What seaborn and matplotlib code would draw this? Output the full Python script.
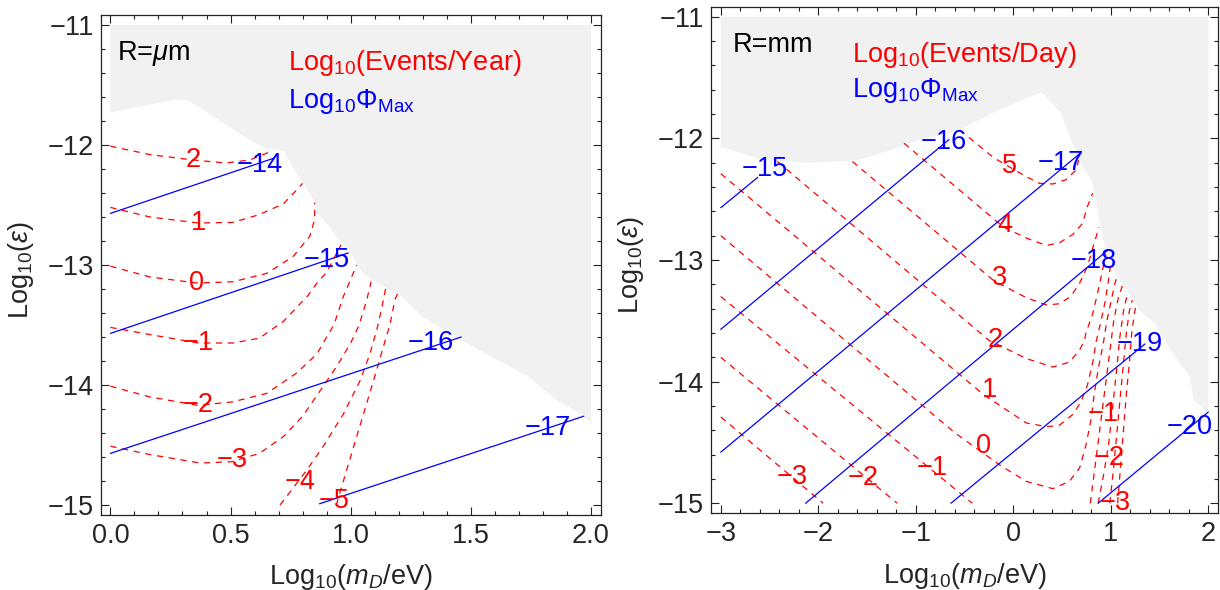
import matplotlib
matplotlib.use("Agg")
import matplotlib.pyplot as plt
import numpy as np
import pandas as pd
import seaborn as sns
from matplotlib.ticker import MultipleLocator, FuncFormatter

# ---------------- data: left panel (R = micrometre) ----------------
gray_um = [(0, -11), (0, -11.73), (0.26, -11.625), (0.32, -11.625), (0.45, -11.79),
           (0.58, -11.96), (0.65, -12.03), (0.72, -12.05), (0.80, -12.32), (0.85, -12.47),
           (0.86, -12.56), (0.89, -12.63), (0.94, -12.76), (1.0, -12.9), (1.05, -13.07),
           (1.14, -13.18), (1.21, -13.26), (1.24, -13.32), (1.30, -13.43), (1.41, -13.57),
           (1.59, -13.77), (1.74, -13.93), (1.86, -14.13), (1.95, -14.23), (2.0, -14.31),
           (2.0, -11)]

ev_um_2 = [(0, -12.01), (0.165, -12.08), (0.345, -12.125), (0.48, -12.15), (0.58, -12.125), (0.66, -12.06)]
ev_um_1 = [(0, -12.52), (0.165, -12.6), (0.365, -12.65), (0.51, -12.645), (0.62, -12.58),
           (0.72, -12.49), (0.775, -12.375), (0.80, -12.32)]
ev_um_0 = [(0, -13.01), (0.165, -13.10), (0.36, -13.15), (0.51, -13.14), (0.65, -13.07),
           (0.76, -12.93), (0.83, -12.76), (0.85, -12.62), (0.85, -12.48)]
ev_um_m1 = [(0, -13.52), (0.165, -13.58), (0.366, -13.65), (0.51, -13.65), (0.62, -13.61),
            (0.72, -13.47), (0.82, -13.26), (0.86, -13.15), (0.90, -13.06), (0.96, -12.83)]
ev_um_m2 = [(0, -14.01), (0.165, -14.10), (0.366, -14.17), (0.51, -14.14), (0.65, -14.07),
            (0.775, -13.90), (0.86, -13.74), (0.90, -13.60), (0.93, -13.50), (0.97, -13.26),
            (1.025, -13.0)]
ev_um_m3 = [(0, -14.51), (0.165, -14.58), (0.373, -14.65), (0.505, -14.64), (0.62, -14.57),
            (0.72, -14.43), (0.80, -14.26), (0.886, -14.01), (0.94, -13.85), (1.0, -13.65),
            (1.035, -13.5), (1.067, -13.29), (1.085, -13.14)]
ev_um_m4 = [(0.706, -15.0), (0.817, -14.71), (0.886, -14.51), (0.97, -14.24), (1.04, -13.96),
            (1.08, -13.74), (1.11, -13.53), (1.13, -13.35), (1.145, -13.2)]
ev_um_m5 = [(0.94, -15.0), (0.983, -14.71), (1.025, -14.43), (1.067, -14.15), (1.108, -13.875),
            (1.136, -13.68), (1.163, -13.5), (1.184, -13.29), (1.195, -13.24)]

phi_um_m14 = [(0, -12.57), (0.68, -12.11)]
phi_um_m15 = [(0, -13.57), (0.99, -12.90)]
phi_um_m16 = [(0, -14.57), (1.46, -13.60)]
phi_um_m17 = [(0.87, -14.99), (1.97, -14.26)]

ev_um_labels = [("2", 0.345, -12.125), ("1", 0.365, -12.65), ("0", 0.36, -13.15),
                ("\u22121", 0.366, -13.65), ("\u22122", 0.366, -14.17), ("\u22123", 0.505, -14.625),
                ("\u22124", 0.79, -14.81), ("\u22125", 0.93, -14.97)]
phi_um_labels = [("\u221214", 0.623, -12.17), ("\u221215", 0.90, -12.96),
                 ("\u221216", 1.333, -13.65), ("\u221217", 1.82, -14.36)]

# ---------------- data: right panel (R = millimetre) ----------------
gray_mm = [(-3, -11), (-3, -12.07), (-2.55, -12.18), (-2.07, -12.2), (-1.6, -12.18),
           (-1.27, -12.1), (-0.95, -12.01), (-0.55, -11.93), (-0.16, -11.77), (0.29, -11.62),
           (0.49, -11.79), (0.593, -12.01), (0.68, -12.18), (0.78, -12.32), (0.815, -12.37),
           (0.865, -12.59), (0.916, -12.81), (0.97, -12.97), (1.05, -13.11), (1.154, -13.25),
           (1.256, -13.36), (1.29, -13.41), (1.45, -13.52), (1.61, -13.74), (1.81, -13.96),
           (1.85, -14.15), (1.97, -14.24), (2.0, -14.24), (2.0, -11)]

ev_mm_5 = [(-0.55, -11.93), (-0.2, -12.16), (0.134, -12.315), (0.27, -12.37), (0.405, -12.375),
           (0.54, -12.34), (0.644, -12.26), (0.67, -12.18)]
ev_mm_4 = [(-1.12, -12.04), (-0.1, -12.73), (0.134, -12.82), (0.34, -12.88), (0.47, -12.86),
           (0.61, -12.79), (0.71, -12.70), (0.76, -12.56), (0.815, -12.45)]
ev_mm_3 = [(-1.65, -12.19), (-0.2, -13.17), (0.134, -13.31), (0.34, -13.37), (0.47, -13.36),
           (0.59, -13.30), (0.68, -13.19), (0.76, -13.055), (0.83, -12.86), (0.88, -12.73)]
ev_mm_2 = [(-2.42, -12.19), (-0.25, -13.66), (0.134, -13.81), (0.405, -13.88), (0.575, -13.84),
           (0.68, -13.74), (0.73, -13.66), (0.745, -13.60), (0.815, -13.44), (0.865, -13.27),
           (0.9, -13.14), (0.95, -12.95)]
ev_mm_1 = [(-3, -12.29), (-0.3, -14.11), (0.134, -14.34), (0.34, -14.37), (0.47, -14.36),
           (0.61, -14.27), (0.695, -14.165), (0.76, -14.03), (0.815, -13.84), (0.85, -13.67),
           (0.9, -13.5), (0.94, -13.35), (0.97, -13.2), (1.0, -13.03)]
ev_mm_0 = [(-3, -12.80), (-0.6, -14.42), (-0.14, -14.685), (0.134, -14.82), (0.405, -14.88),
           (0.575, -14.82), (0.68, -14.71), (0.746, -14.52), (0.80, -14.30), (0.83, -14.1),
           (0.87, -13.9), (0.92, -13.7), (0.96, -13.5), (1.0, -13.35), (1.04, -13.2), (1.07, -13.12)]
ev_mm_m1 = [(-3, -13.30), (-0.42, -15.0)]
ev_mm_m1b = [(0.79, -15.0), (0.83, -14.75), (0.87, -14.5), (0.91, -14.25), (0.95, -14.0),
             (0.99, -13.75), (1.03, -13.5), (1.08, -13.3), (1.12, -13.21)]
ev_mm_m2 = [(-3, -13.80), (-1.19, -15.0)]
ev_mm_m2b = [(0.87, -15.0), (0.93, -14.75), (0.98, -14.5), (1.02, -14.2), (1.06, -13.9),
             (1.09, -13.65), (1.13, -13.42), (1.17, -13.28)]
ev_mm_m3 = [(-3, -14.29), (-1.95, -15.0)]
ev_mm_m3b = [(0.99, -15.0), (1.03, -14.7), (1.065, -14.4), (1.1, -14.1), (1.13, -13.85),
             (1.16, -13.6), (1.19, -13.42), (1.22, -13.33)]
ev_mm_m4b = [(1.07, -15.0), (1.1, -14.7), (1.13, -14.4), (1.16, -14.1), (1.19, -13.85),
             (1.215, -13.6), (1.24, -13.45), (1.26, -13.37)]

phi_mm_m15 = [(-3, -12.57), (-2.62, -12.32)]
phi_mm_m16 = [(-3, -13.57), (-0.66, -12.01)]
phi_mm_m17 = [(-3, -14.58), (0.69, -12.12)]
phi_mm_m18 = [(-2.13, -15.0), (0.967, -12.92)]
phi_mm_m19 = [(-0.64, -15.0), (1.35, -13.69)]
phi_mm_m20 = [(0.87, -15.0), (2.0, -14.25)]

ev_mm_labels = [("5", -0.037, -12.23), ("4", -0.088, -12.71), ("3", -0.139, -13.15),
                ("2", -0.19, -13.66), ("1", -0.24, -14.07), ("0", -0.31, -14.53),
                ("\u22121", -0.83, -14.71), ("\u22122", -1.54, -14.79), ("\u22123", -2.27, -14.78),
                ("\u22121", 0.92, -14.27), ("\u22122", 0.98, -14.63), ("\u22123", 1.05, -15.0)]
phi_mm_labels = [("\u221215", -2.55, -12.25), ("\u221216", -0.71, -12.03), ("\u221217", 0.49, -12.2),
                 ("\u221218", 0.83, -13.01), ("\u221219", 1.3, -13.69), ("\u221220", 1.81, -14.37)]

# ---------------- style ----------------
sns.set_style("ticks")
plt.rcParams['font.family'] = ['Liberation Sans', 'DejaVu Sans']
plt.rcParams['mathtext.fontset'] = 'custom'
plt.rcParams['mathtext.rm'] = 'Liberation Sans'
plt.rcParams['mathtext.it'] = 'Liberation Sans:italic'
plt.rcParams['mathtext.bf'] = 'Liberation Sans:bold'
plt.rcParams['axes.unicode_minus'] = True

FS = 19.5
RED = '#ff0000'
BLUE = '#0000ff'
GRAY = '#f1f1f1'
DASH = (0, (5, 4.5))


def draw_lines(ax, curves, color, ls, lw):
    frames = [pd.DataFrame(pts, columns=['x', 'y']).assign(curve=name) for name, pts in curves]
    df = pd.concat(frames, ignore_index=True)
    sns.lineplot(data=df, x='x', y='y', units='curve', estimator=None, sort=False,
                 color=color, linestyle=ls, lw=lw, ax=ax, legend=False)


def minus_fmt(fmt):
    return FuncFormatter(lambda v, p: (fmt % v).replace('-', '\u2212'))


def style_axes(ax, xlim, ylim, xmaj, xmin, xfmt):
    ax.set_xlim(*xlim)
    ax.set_ylim(*ylim)
    ax.xaxis.set_major_locator(MultipleLocator(xmaj))
    ax.xaxis.set_minor_locator(MultipleLocator(xmin))
    ax.yaxis.set_major_locator(MultipleLocator(1))
    ax.yaxis.set_minor_locator(MultipleLocator(0.2))
    ax.xaxis.set_major_formatter(minus_fmt(xfmt))
    ax.yaxis.set_major_formatter(minus_fmt('%d'))
    ax.tick_params(which='both', direction='in', top=True, right=True, color='#222222',
                   labelsize=FS, width=0.8)
    ax.tick_params(which='major', length=6)
    ax.tick_params(which='minor', length=3)
    ax.tick_params(axis='x', pad=6)
    ax.tick_params(axis='y', pad=5)
    for s in ax.spines.values():
        s.set_color('#222222')
        s.set_linewidth(0.9)
    ax.set_xlabel(r'Log$_{10}$($m_D$/eV)', fontsize=FS, va='center')
    ax.set_ylabel(r'Log$_{10}$($\varepsilon$)', fontsize=FS, va='center')


fig = plt.figure(figsize=(12.2, 5.9), dpi=100)
axL = fig.add_axes([0.0826, 0.1278, 0.4097, 0.8461])
axR = fig.add_axes([0.5828, 0.1305, 0.4156, 0.8576])

# ----- left panel -----
gx, gy = zip(*gray_um)
axL.fill(gx, gy, color=GRAY, lw=0, zorder=0)
draw_lines(axL, [('2', ev_um_2), ('1', ev_um_1), ('0', ev_um_0), ('-1', ev_um_m1),
                 ('-2', ev_um_m2), ('-3', ev_um_m3), ('-4', ev_um_m4), ('-5', ev_um_m5)],
           RED, DASH, 0.9)
draw_lines(axL, [('-14', phi_um_m14), ('-15', phi_um_m15), ('-16', phi_um_m16), ('-17', phi_um_m17)],
           BLUE, '-', 0.9)
for t, x, y in ev_um_labels:
    axL.text(x, y, t, color=RED, fontsize=FS, ha='center', va='center')
for t, x, y in phi_um_labels:
    axL.text(x, y, t, color=BLUE, fontsize=FS, ha='center', va='center')
axL.text(0.026, -11.29, r'R=$\mu$m', fontsize=FS, color='black', ha='left', va='baseline')
axL.text(0.74, -11.375, r'Log$_{10}$(Events/Year)', fontsize=FS, color=RED, ha='left', va='baseline')
axL.text(0.74, -11.694, r'Log$_{10}$Φ$_{\mathrm{Max}}$', fontsize=FS, color=BLUE, ha='left', va='baseline')
style_axes(axL, (-0.04, 2.04), (-15.08, -10.92), 0.5, 0.1, '%.1f')
axL.xaxis.set_label_coords(0.5, -0.125)
axL.yaxis.set_label_coords(-0.16, 0.49)

# ----- right panel -----
gx, gy = zip(*gray_mm)
axR.fill(gx, gy, color=GRAY, lw=0, zorder=0)
draw_lines(axR, [('5', ev_mm_5), ('4', ev_mm_4), ('3', ev_mm_3), ('2', ev_mm_2), ('1', ev_mm_1),
                 ('0', ev_mm_0), ('-1', ev_mm_m1), ('-1b', ev_mm_m1b), ('-2', ev_mm_m2),
                 ('-2b', ev_mm_m2b), ('-3', ev_mm_m3), ('-3b', ev_mm_m3b), ('-4b', ev_mm_m4b)],
           RED, DASH, 0.9)
draw_lines(axR, [('-15', phi_mm_m15), ('-16', phi_mm_m16), ('-17', phi_mm_m17), ('-18', phi_mm_m18),
                 ('-19', phi_mm_m19), ('-20', phi_mm_m20)], BLUE, '-', 0.9)
for t, x, y in ev_mm_labels:
    axR.text(x, y, t, color=RED, fontsize=FS, ha='center', va='center')
for t, x, y in phi_mm_labels:
    axR.text(x, y, t, color=BLUE, fontsize=FS, ha='center', va='center')
axR.text(-2.877, -11.288, 'R=mm', fontsize=FS, color='black', ha='left', va='baseline')
axR.text(-1.652, -11.37, r'Log$_{10}$(Events/Day)', fontsize=FS, color=RED, ha='left', va='baseline')
axR.text(-1.652, -11.66, r'Log$_{10}$Φ$_{\mathrm{Max}}$', fontsize=FS, color=BLUE, ha='left', va='baseline')
style_axes(axR, (-3.1, 2.1), (-15.08, -10.92), 1, 0.2, '%d')
axR.xaxis.set_label_coords(0.5, -0.125)
axR.yaxis.set_label_coords(-0.158, 0.49)

fig.savefig('out.png', dpi=100)
